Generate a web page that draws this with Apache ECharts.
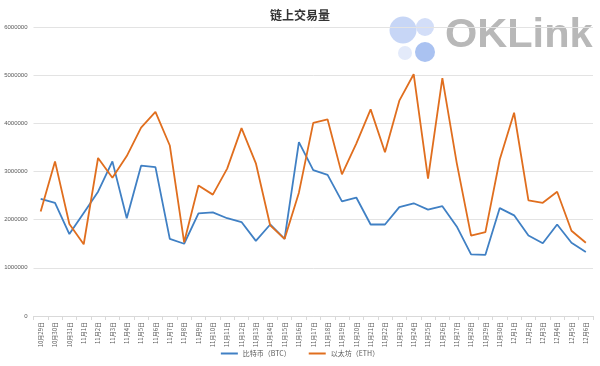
<!DOCTYPE html>
<html><head><meta charset="utf-8">
<script src="https://cdn.jsdelivr.net/npm/echarts@6/dist/echarts.min.js"></script>
<style>html,body{margin:0;padding:0;background:#fff}#c{width:600px;height:366px}</style>
</head><body><div id="c"></div>
<script>
const categories = ['10月29日','10月30日','10月31日','11月1日','11月2日','11月3日','11月4日','11月5日','11月6日','11月7日','11月8日','11月9日','11月10日','11月11日','11月12日','11月13日','11月14日','11月15日','11月16日','11月17日','11月18日','11月19日','11月20日','11月21日','11月22日','11月23日','11月24日','11月25日','11月26日','11月27日','11月28日','11月29日','11月30日','12月1日','12月2日','12月3日','12月4日','12月5日','12月6日'];
const btc = [2430000,2350000,1700000,2140000,2580000,3210000,2030000,3120000,3090000,1600000,1500000,2130000,2150000,2030000,1950000,1560000,1900000,1600000,3610000,3030000,2930000,2380000,2460000,1900000,1900000,2260000,2340000,2210000,2280000,1860000,1280000,1270000,2240000,2090000,1670000,1510000,1900000,1520000,1330000];
const eth = [2170000,3210000,1910000,1490000,3280000,2870000,3320000,3910000,4240000,3540000,1530000,2710000,2520000,3060000,3900000,3170000,1880000,1600000,2560000,4010000,4080000,2940000,3580000,4290000,3400000,4470000,5020000,2850000,4940000,3180000,1670000,1740000,3250000,4220000,2400000,2350000,2580000,1770000,1520000];
const seriesNames = ['比特币（BTC）','以太坊（ETH）'];
const titleText = '链上交易量';

const chart = echarts.init(document.getElementById('c'));
chart.setOption({
  animation:false,
  title:{text:titleText,left:'center',top:4,textStyle:{fontSize:12,fontWeight:'bold',color:'#333',fontFamily:'Noto Sans CJK SC'}},
  graphic:[
    {type:'circle',shape:{cx:405,cy:53,r:7},style:{fill:'#e3eafa'},z:-1},
    {type:'circle',shape:{cx:403,cy:30,r:13.5},style:{fill:'#c7d6f6'},z:-1},
    {type:'circle',shape:{cx:425,cy:27,r:9},style:{fill:'#d3def8'},z:-1},
    {type:'circle',shape:{cx:425,cy:52,r:10},style:{fill:'#aac2f1'},z:-1},
    {type:'text',left:445,top:15,style:{text:'OKLink',fontSize:41.5,fontWeight:'bold',fill:'#b8b8b8',fontFamily:'Liberation Sans'},z:-1}
  ],
  legend:{bottom:4,left:'center',itemWidth:17,itemHeight:2,itemGap:18,icon:'rect',
    textStyle:{fontSize:7,color:'#595959',fontFamily:'Noto Sans CJK SC'},data:seriesNames},
  grid:{left:33.5,right:7,top:27,bottom:50},
  xAxis:{type:'category',data:categories,boundaryGap:true,
    axisLine:{lineStyle:{color:'#d9d9d9'}},
    axisTick:{show:true,lineStyle:{color:'#d9d9d9'},length:4},
    axisLabel:{rotate:90,interval:0,fontSize:6,color:'#595959',margin:6,fontFamily:'Noto Sans CJK SC'}},
  yAxis:{type:'value',min:0,max:6000000,interval:1000000,
    axisLine:{show:false},axisTick:{show:false},
    splitLine:{lineStyle:{color:'#e3e3e3'}},
    axisLabel:{fontSize:6,color:'#595959',margin:6,formatter:function(v){return String(v);}}},
  series:[
    {name:seriesNames[0],type:'line',data:btc,symbol:'none',lineStyle:{width:1.8,color:'#4080c4'},itemStyle:{color:'#4080c4'}},
    {name:seriesNames[1],type:'line',data:eth,symbol:'none',lineStyle:{width:1.8,color:'#e06e1e'},itemStyle:{color:'#e06e1e'}}
  ]
});
</script></body></html>
